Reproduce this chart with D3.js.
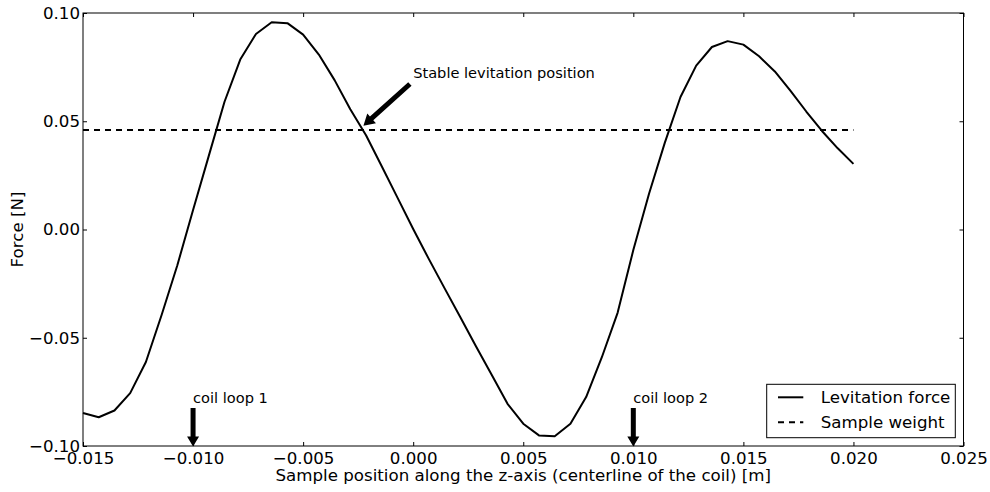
<!DOCTYPE html>
<meta charset="utf-8">
<style>
body { margin: 0; background: #fff; }
text { font-family: "DejaVu Sans", sans-serif; fill: #000; }
.axis path { display: none; }
.axis line { stroke: #000; stroke-width: 1; }
.axis text { font-size: 16.67px; font-family: "DejaVu Sans", sans-serif; }
</style>
<body>
<script src="https://cdn.jsdelivr.net/npm/d3@7"></script>
<script>

// sample positions along z [m]
var positions = [-0.015, -0.014286, -0.013571, -0.012857, -0.012143, -0.011429, -0.010714, -0.01,
  -0.009286, -0.008571, -0.007857, -0.007143, -0.006429, -0.005714, -0.005, -0.004286,
  -0.003571, -0.002857, -0.002143, -0.001429, -0.000714, 0.0, 0.000714, 0.001429,
  0.002143, 0.002857, 0.003571, 0.004286, 0.005, 0.005714, 0.006429, 0.007143,
  0.007857, 0.008571, 0.009286, 0.01, 0.010714, 0.011429, 0.012143, 0.012857,
  0.013571, 0.014286, 0.015, 0.015714, 0.016429, 0.017143, 0.017857, 0.018571,
  0.019286, 0.02];

// levitation force [N]
var force = [-0.0848, -0.0867, -0.0836, -0.0756, -0.0612, -0.0395, -0.0165, 0.0090,
  0.0340, 0.0590, 0.0785, 0.0903, 0.0957, 0.0953, 0.0900, 0.0808,
  0.0690, 0.0555, 0.0435, 0.0292, 0.0147, 0.0002, -0.0137, -0.0272,
  -0.0405, -0.0540, -0.0672, -0.0805, -0.0897, -0.0951, -0.0955, -0.0897,
  -0.0774, -0.0590, -0.0385, -0.0095, 0.0165, 0.0400, 0.0612, 0.0757,
  0.0843, 0.0870, 0.0854, 0.0800, 0.0730, 0.0640, 0.0545, 0.0455,
  0.0375, 0.0303];

var sampleWeight = 0.046;

var xTicks = [-0.015, -0.010, -0.005, 0.000, 0.005, 0.010, 0.015, 0.020, 0.025];
var yTicks = [-0.10, -0.05, 0.00, 0.05, 0.10];

var coilLoops = [{label: "coil loop 1", z: -0.010}, {label: "coil loop 2", z: 0.010}];

var margin = {top: 13, right: 26.5, bottom: 46, left: 83},
    width = 990 - margin.left - margin.right,
    height = 492 - margin.top - margin.bottom;

var x = d3.scaleLinear().domain([-0.015, 0.025]).range([0, width]);
var y = d3.scaleLinear().domain([-0.10, 0.10]).range([height, 0]);

var svg = d3.select("body").append("svg")
    .attr("width", 990)
    .attr("height", 492)
  .append("g")
    .attr("transform", "translate(" + margin.left + "," + margin.top + ")");

// ticks pointing inward on all four sides
svg.append("g").attr("class", "axis")
    .attr("transform", "translate(0," + height + ")")
    .call(d3.axisBottom(x).tickValues(xTicks).tickFormat(d3.format(".3f"))
      .tickSizeInner(-4).tickSizeOuter(0).tickPadding(6));
svg.append("g").attr("class", "axis")
    .call(d3.axisTop(x).tickValues(xTicks).tickFormat("").tickSizeInner(-4).tickSizeOuter(0));
svg.append("g").attr("class", "axis")
    .call(d3.axisLeft(y).tickValues(yTicks).tickFormat(d3.format(".2f"))
      .tickSizeInner(-4).tickSizeOuter(0).tickPadding(3));
svg.append("g").attr("class", "axis")
    .attr("transform", "translate(" + width + ",0)")
    .call(d3.axisRight(y).tickValues(yTicks).tickFormat("").tickSizeInner(-4).tickSizeOuter(0));

svg.append("rect")
    .attr("x", 0).attr("y", 0)
    .attr("width", width).attr("height", height)
    .attr("fill", "none").attr("stroke", "#000").attr("stroke-width", 1);

var line = d3.line()
    .x(function(d, i) { return x(positions[i]); })
    .y(function(d) { return y(d); });

svg.append("path")
    .datum(force)
    .attr("d", line)
    .attr("fill", "none")
    .attr("stroke", "#000")
    .attr("stroke-width", 2)
    .attr("stroke-linejoin", "round");

svg.append("line")
    .attr("x1", x(positions[0])).attr("x2", x(positions[positions.length - 1]))
    .attr("y1", y(sampleWeight)).attr("y2", y(sampleWeight))
    .attr("stroke", "#000").attr("stroke-width", 2)
    .attr("stroke-dasharray", "6,5");

// filled arrow polygon from (x1,y1) to tip (x2,y2)
function arrow(x1, y1, x2, y2, shaft, headW, headL) {
  var dx = x2 - x1, dy = y2 - y1, len = Math.sqrt(dx * dx + dy * dy);
  var ux = dx / len, uy = dy / len, nx = -uy, ny = ux;
  var bx = x2 - ux * headL, by = y2 - uy * headL;
  var p = [
    [x1 + nx * shaft / 2, y1 + ny * shaft / 2],
    [bx + nx * shaft / 2, by + ny * shaft / 2],
    [bx + nx * headW / 2, by + ny * headW / 2],
    [x2, y2],
    [bx - nx * headW / 2, by - ny * headW / 2],
    [bx - nx * shaft / 2, by - ny * shaft / 2],
    [x1 - nx * shaft / 2, y1 - ny * shaft / 2]
  ];
  svg.append("polygon")
      .attr("points", p.map(function(q) { return q.join(","); }).join(" "))
      .attr("fill", "#000");
}

// stable levitation annotation
svg.append("text")
    .attr("x", x(0.0)).attr("y", y(0.07))
    .style("font-size", "14.6px")
    .text("Stable levitation position");
arrow(x(-0.00015), y(0.0672), x(-0.00226), y(0.0479), 5, 13, 11);

// coil loop markers
coilLoops.forEach(function(c) {
  svg.append("text")
      .attr("x", x(c.z)).attr("y", y(-0.0803))
      .style("font-size", "14.6px")
      .text(c.label);
  arrow(x(c.z), y(-0.0825), x(c.z), y(-0.1) + 0.5, 5, 12, 10);
});

// axis labels
svg.append("text")
    .attr("x", width / 2).attr("y", 481 - margin.top)
    .attr("text-anchor", "middle")
    .style("font-size", "16.67px")
    .text("Sample position along the z-axis (centerline of the coil) [m]");

svg.append("text")
    .attr("transform", "translate(" + (22.5 - margin.left) + "," + (height / 2) + ") rotate(-90)")
    .attr("text-anchor", "middle")
    .style("font-size", "16.67px")
    .text("Force [N]");

// legend
var lg = svg.append("g").attr("transform", "translate(" + (766.7 - margin.left) + "," + (384.3 - margin.top) + ")");
lg.append("rect")
    .attr("width", 188.6).attr("height", 53.4)
    .attr("fill", "#fff").attr("stroke", "#000").attr("stroke-width", 1);
var items = [{label: "Levitation force", dash: null}, {label: "Sample weight", dash: "6,5"}];
items.forEach(function(it, i) {
  var ly = 13 + i * 25;
  lg.append("line")
      .attr("x1", 11.3).attr("x2", 36.6)
      .attr("y1", ly).attr("y2", ly)
      .attr("stroke", "#000").attr("stroke-width", 2)
      .attr("stroke-dasharray", it.dash);
  lg.append("text")
      .attr("x", 54).attr("y", ly + 6)
      .style("font-size", "16.67px")
      .text(it.label);
});

</script>
</body>
